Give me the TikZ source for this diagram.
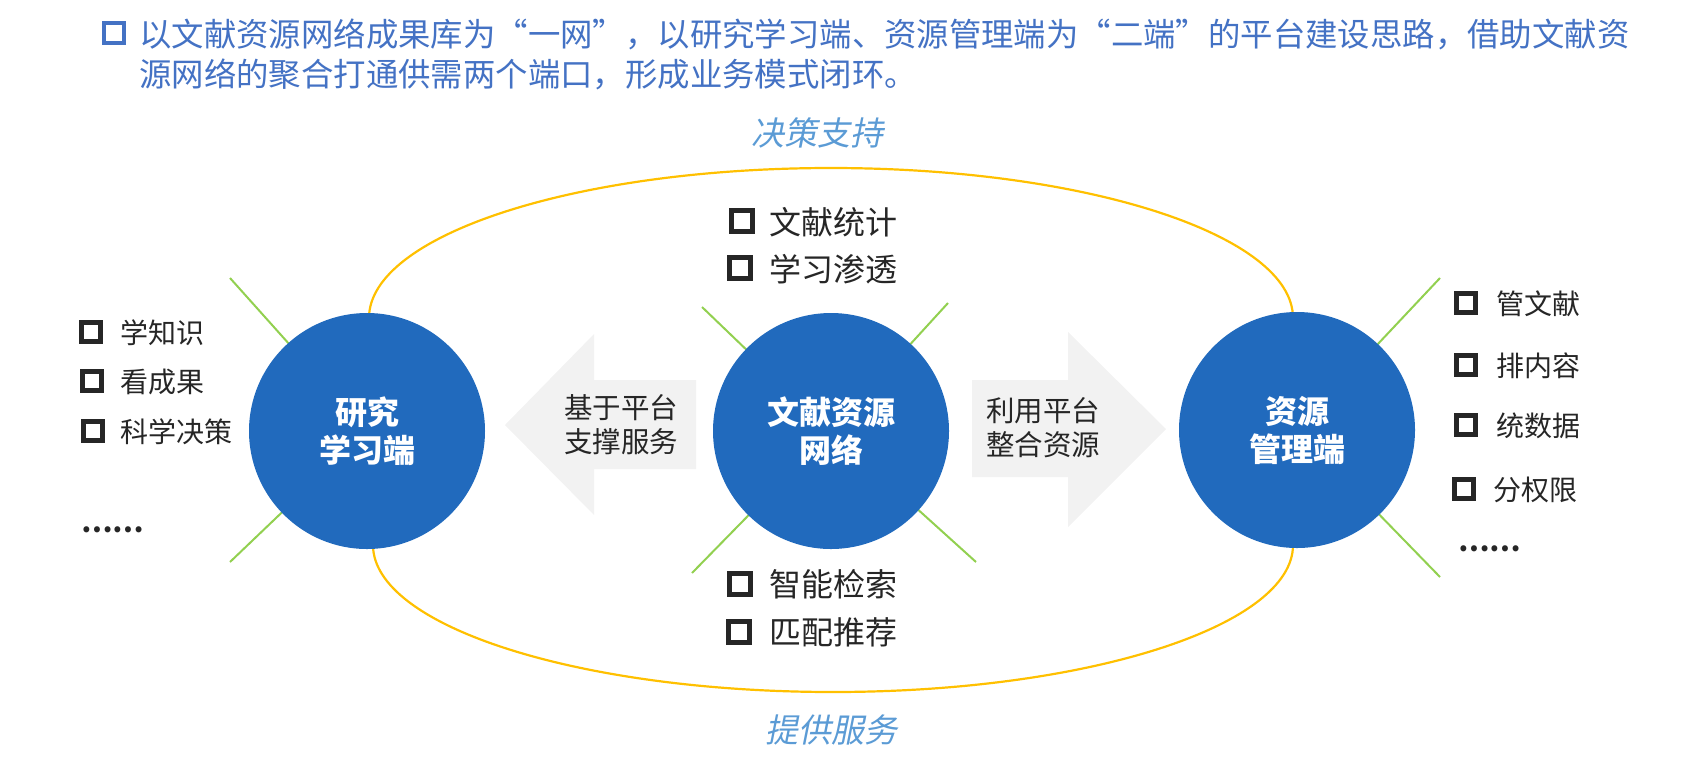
\documentclass[tikz,border=0pt]{standalone}
\usepackage{fontspec}
\setmainfont{Noto Sans CJK SC}
\newfontfamily\cjkit[FakeSlant=0.2]{Noto Sans CJK SC}
\usetikzlibrary{backgrounds}
\definecolor{hubblue}{HTML}{216ABD}
\definecolor{txt}{HTML}{262626}
\definecolor{arrowgray}{HTML}{F2F2F2}
\definecolor{ringyellow}{HTML}{FFC000}
\definecolor{spokegreen}{HTML}{92D050}
\definecolor{labelblue}{HTML}{5B9BD5}
\definecolor{headblue}{HTML}{4472C4}
\begin{document}
\begin{tikzpicture}[x=1pt,y=-1pt,
  hub/.style={circle, fill=hubblue, minimum size=236pt, inner sep=0pt, text=white,
    font=\fontsize{32}{38}\selectfont\bfseries, align=center},
  smallitem/.style={anchor=west, inner sep=0pt, text=txt, font=\fontsize{28}{34}\selectfont,
    text height=24.6pt, text depth=3.4pt},
  bigitem/.style={anchor=west, inner sep=0pt, text=txt, font=\fontsize{32}{38}\selectfont,
    text height=28.2pt, text depth=3.8pt},
  chk/.style={draw=txt, line width=5pt, minimum size=19pt, inner sep=0pt},
  bigchk/.style={draw=txt, line width=5pt, minimum size=21pt, inner sep=0pt},
  spoke/.style={draw=spokegreen, line width=2pt},
  ring/.style={draw=ringyellow, line width=2.2pt},
  arrowlabel/.style={align=center, text=txt, font=\fontsize{28.5}{34}\selectfont, inner sep=0pt},
  ringlabel/.style={text=labelblue, font=\fontsize{33}{40}\selectfont\cjkit, inner sep=0pt},
  headtext/.style={anchor=west, inner sep=0pt, text=headblue, font=\fontsize{32.4}{40}\selectfont,
    text height=28.5pt, text depth=3.9pt}
]
\useasboundingbox (0,0) rectangle (1708,756);

% header
\node[draw=headblue, line width=4pt, minimum size=20pt, inner sep=0pt] (hbox) at (113.5,33) {};
\node[headtext] (h1) at (139,34) {以文献资源网络成果库为“一网”，以研究学习端、资源管理端为“二端”的平台建设思路，借助文献资};
\node[headtext] (h2) at (139,74) {源网络的聚合打通供需两个端口，形成业务模式闭环。};

% hubs
\node[hub] (lh) at (367,431) {研究\\学习端};
\node[hub] (mh) at (831,431) {文献资源\\网络};
\node[hub] (rh) at (1297,430) {资源\\管理端};

% spoke end points
\coordinate (l1) at (230,278);
\coordinate (l2) at (230,562);
\coordinate (m1) at (702,307);
\coordinate (m2) at (948,303);
\coordinate (m3) at (692,573);
\coordinate (m4) at (976,562);
\coordinate (r1) at (1440,278);
\coordinate (r2) at (1440,577);
\coordinate (ringtop) at (369,318);
\coordinate (ringbot) at (373,545);

\begin{scope}[on background layer]
  \draw[spoke] (lh.center) -- (l1);
  \draw[spoke] (lh.center) -- (l2);
  \draw[spoke] (mh.center) -- (m1);
  \draw[spoke] (mh.center) -- (m2);
  \draw[spoke] (mh.center) -- (m3);
  \draw[spoke] (mh.center) -- (m4);
  \draw[spoke] (rh.center) -- (r1);
  \draw[spoke] (rh.center) -- (r2);
  \draw[ring] (ringtop) arc[start angle=180, end angle=360, x radius=462, y radius=150];
  \draw[ring] (ringbot) arc[start angle=180, end angle=0, x radius=460, y radius=147];
  % big arrows
  \fill[arrowgray] (505,425) -- (594,334) -- (594,380) -- (696,380) -- (696,469) -- (594,469) -- (594,515) -- cycle;
  \fill[arrowgray] (972,380) -- (1068,380) -- (1068,332) -- (1166,429) -- (1068,527) -- (1068,477) -- (972,477) -- cycle;
\end{scope}

\node[arrowlabel] (al) at (621,425) {基于平台\\支撑服务};
\node[arrowlabel] (ar) at (1043,427.5) {利用平台\\整合资源};

\node[ringlabel] (dec) at (817,133) {决策支持};
\node[ringlabel] (srv) at (831,730) {提供服务};

% left list
\node[chk] (lb1) at (91,332) {};
\node[smallitem] (lt1) at (120,333) {学知识};
\node[chk] (lb2) at (92,381) {};
\node[smallitem] (lt2) at (120,382) {看成果};
\node[chk] (lb3) at (93,431) {};
\node[smallitem] (lt3) at (120,432) {科学决策};
\node[smallitem, font=\fontsize{28}{34}\selectfont\bfseries] (lt4) at (81,522) {……};

% middle lists
\node[bigchk] (mb1) at (742,221) {};
\node[bigitem] (mt1) at (769,222) {文献统计};
\node[bigchk] (mb2) at (740,268) {};
\node[bigitem] (mt2) at (769,269) {学习渗透};
\node[bigchk] (mb3) at (740,584) {};
\node[bigitem] (mt3) at (769,584) {智能检索};
\node[bigchk] (mb4) at (739,632) {};
\node[bigitem] (mt4) at (769,632) {匹配推荐};

% right list
\node[chk] (rb1) at (1466,303) {};
\node[smallitem] (rt1) at (1496,304) {管文献};
\node[chk] (rb2) at (1466,365) {};
\node[smallitem] (rt2) at (1496,366) {排内容};
\node[chk] (rb3) at (1466,425) {};
\node[smallitem] (rt3) at (1496,426) {统数据};
\node[chk] (rb4) at (1464,489) {};
\node[smallitem] (rt4) at (1493,490) {分权限};
\node[smallitem, font=\fontsize{28}{34}\selectfont\bfseries] (rt5) at (1458,541) {……};
\end{tikzpicture}
\end{document}
